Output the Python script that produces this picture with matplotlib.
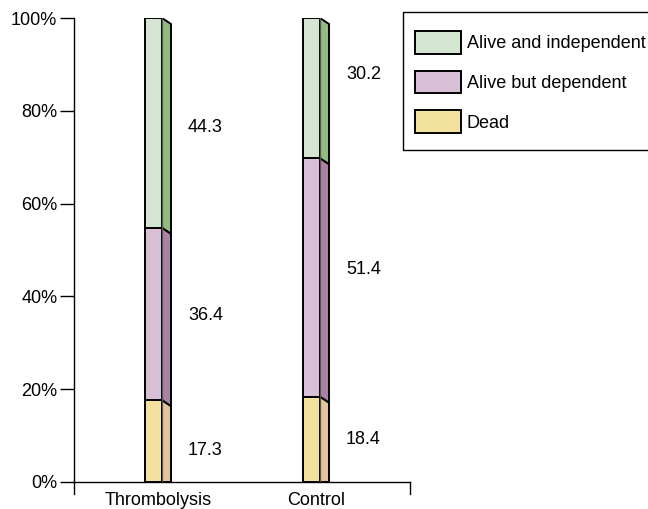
import matplotlib.pyplot as plt
from matplotlib.patches import Polygon, Patch, Rectangle

plt.rcParams['font.family'] = ['Liberation Sans', 'DejaVu Sans']

# data
groups = ["Thrombolysis", "Control"]
outcomes = ["Dead", "Alive but dependent", "Alive and independent"]
dead = [17.3, 18.4]
dependent = [36.4, 51.4]
independent = [44.3, 30.2]

front_colors = ["#f3e29e", "#d8bfd6", "#d4e6d1"]
side_colors = ["#e4c498", "#ab82a5", "#93bb7f"]

# label heights (layout only)
label_y = [[6.7, 35.8, 76.3], [9.1, 45.7, 87.9]]

W, H = 648, 509
fig = plt.figure(figsize=(W / 100, H / 100), dpi=100)
ax = fig.add_axes([74 / W, 27 / H, 336 / W, 464 / H])

x = [0, 1]
front_w = 17 / 158
depth = 9 / 158
drop = 6 / 464 * 100
series = [dead, dependent, independent]

for i, xc in enumerate(x):
    left = xc - 13 / 158
    total = sum(s[i] for s in series)
    bottom = 0
    for k, vals in enumerate(series):
        v = vals[i] / total * 100  # bars drawn as share of 100%
        ax.bar(left, v, width=front_w, bottom=bottom, align='edge',
               color=front_colors[k], edgecolor='black', linewidth=1.4, zorder=2)
        x1 = left + front_w
        b0 = bottom if bottom > 0 else 0
        side = Polygon([(x1, b0), (x1, bottom + v),
                        (x1 + depth, bottom + v - drop), (x1 + depth, max(bottom - drop, 0))],
                       closed=True, facecolor=side_colors[k], edgecolor='black',
                       linewidth=1.4, zorder=1)
        ax.add_patch(side)
        ax.plot([x1, x1], [bottom, bottom + v], color='#555555', lw=0.9, zorder=3)
        ax.text(xc + 0.19, label_y[i][k], f"{vals[i]:.1f}", fontsize=13,
                ha='left', va='center')
        bottom += v

ax.set_xlim(-84 / 158, 1 + 94 / 158)
ax.set_ylim(0, 100)
ax.set_yticks([0, 20, 40, 60, 80, 100])
ax.set_yticklabels([f"{t}%" for t in [0, 20, 40, 60, 80, 100]], fontsize=13)
ax.set_xticks(x)
ax.set_xticklabels(groups, fontsize=13)
ax.tick_params(axis='y', length=10, width=1, pad=2)
ax.tick_params(axis='x', length=0, pad=7)
for s in ['top', 'right']:
    ax.spines[s].set_visible(False)
for s in ['left', 'bottom']:
    ax.spines[s].set_linewidth(1)
ax.plot([0, 0], [0, -0.026], transform=ax.transAxes, color='black', lw=1, clip_on=False)
ax.plot([1, 1], [0, -0.026], transform=ax.transAxes, color='black', lw=1, clip_on=False)

# legend frame drawn separately, runs off the right edge
fig.patches.append(Rectangle((403 / W, 1 - 150 / H), 260 / W, 138 / H,
                             transform=fig.transFigure, facecolor='white',
                             edgecolor='black', linewidth=1, zorder=0))
handles = [Patch(facecolor=front_colors[k], edgecolor='black', linewidth=1.4,
                 label=outcomes[k]) for k in [2, 1, 0]]
leg = fig.legend(handles=handles, loc='upper left',
                 bbox_to_anchor=(415 / W, 1 - 31 / H), fontsize=13,
                 handlelength=2.55, handleheight=1.56, labelspacing=0.94,
                 handletextpad=0.33, borderpad=0, borderaxespad=0,
                 frameon=False)

fig.savefig("out.png", dpi=100)
